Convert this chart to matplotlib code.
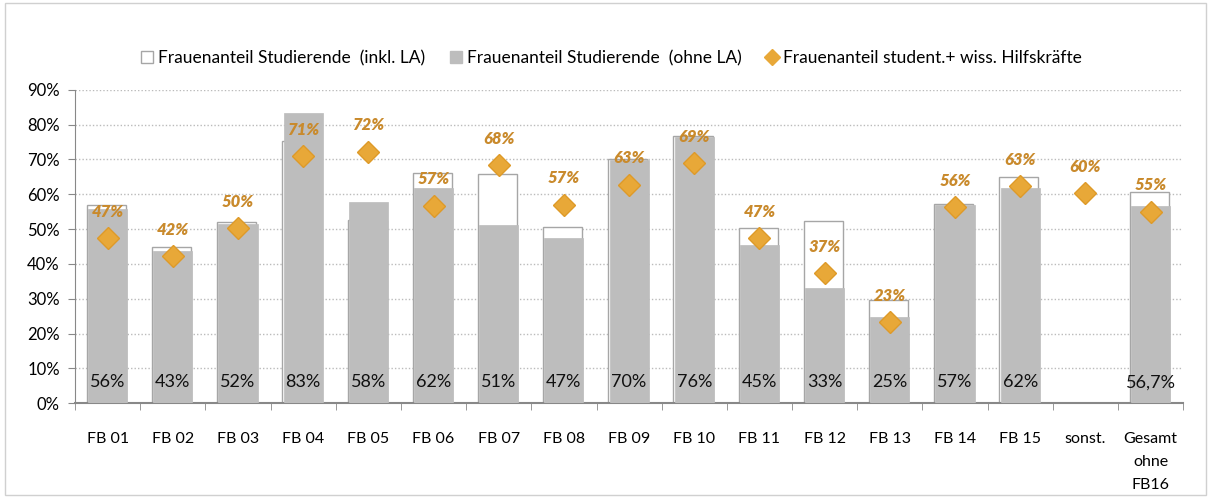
import matplotlib.pyplot as plt
from matplotlib.lines import Line2D
from matplotlib.patches import Patch, Rectangle
import numpy as np

plt.rcParams['font.family'] = ['Lato', 'DejaVu Sans']

categories = ["FB 01", "FB 02", "FB 03", "FB 04", "FB 05", "FB 06", "FB 07", "FB 08",
              "FB 09", "FB 10", "FB 11", "FB 12", "FB 13", "FB 14", "FB 15", "sonst.",
              "Gesamt\nohne\nFB16"]
inkl_la = [57.0, 44.8, 52.0, 75.3, 52.5, 66.0, 65.8, 50.6, 70.0, 76.8, 50.3, 52.3, 29.5,
           57.2, 65.0, np.nan, 60.7]
ohne_la = [55.8, 43.6, 51.6, 83.4, 57.8, 61.7, 51.3, 47.4, 69.8, 76.4, 45.4, 33.1, 24.8,
           57.0, 61.7, np.nan, 56.7]
ohne_labels = ["56%", "43%", "52%", "83%", "58%", "62%", "51%", "47%", "70%", "76%",
               "45%", "33%", "25%", "57%", "62%", "", "56,7%"]
hilfskraefte = [47.3, 42.3, 50.2, 71.0, 72.2, 56.7, 68.4, 57.0, 62.8, 69.0, 47.4, 37.4,
                23.2, 56.3, 62.3, 60.3, 55.0]
hk_labels = ["47%", "42%", "50%", "71%", "72%", "57%", "68%", "57%", "63%", "69%",
             "47%", "37%", "23%", "56%", "63%", "60%", "55%"]

GREY = "#BDBDBD"
EDGE = "#A6A6A6"
ORANGE = "#E8A838"
LABEL_ORANGE = "#C98A2C"

fig = plt.figure(figsize=(12.11, 4.99), dpi=100)
fig.patches.append(Rectangle((0.004, 0.008), 0.992, 0.986, transform=fig.transFigure,
                             fill=False, edgecolor="#D0D0D0", linewidth=1))
ax = fig.add_axes([0.062, 0.192, 0.915, 0.628])

x = np.arange(len(categories))
inkl = np.array(inkl_la) / 100
ohne = np.array(ohne_la) / 100
hk = np.array(hilfskraefte) / 100

ax.bar(x - 0.02, inkl, width=0.6, color="white", edgecolor=EDGE, linewidth=1, zorder=2)
ax.bar(x, ohne, width=0.6, color=GREY, edgecolor=GREY, linewidth=0.5, zorder=3)
ax.plot(x, hk, linestyle="none", marker="D", markersize=11, color=ORANGE,
        markeredgecolor="#DE9A28", markeredgewidth=1, zorder=4)

for xi, lab in zip(x, ohne_labels):
    ax.text(xi, 0.06, lab, ha="center", va="center", fontsize=13, color="#111111", zorder=5)
for xi, v, lab in zip(x, hk, hk_labels):
    ax.annotate(lab, (xi, v), xytext=(0, 19), textcoords="offset points",
                ha="center", va="center", fontsize=12, fontweight="heavy", style="italic",
                color=LABEL_ORANGE, zorder=5)

ax.set_xlim(-0.5, len(categories) - 0.5)
ax.set_ylim(0, 0.9)
yt = np.arange(0, 0.91, 0.1)
ax.set_yticks(yt)
ax.set_yticklabels([f"{int(round(t * 100))}%" for t in yt], fontsize=12)
ax.set_xticks(x)
ax.set_xticklabels(categories, fontsize=11.5, linespacing=1.8, va="top")
ax.set_xticks(np.arange(-0.5, len(categories)), minor=True)
ax.tick_params(axis="x", which="major", length=0, pad=21)
ax.tick_params(axis="x", which="minor", length=5, color="#888888", direction="out")
ax.tick_params(axis="y", length=5, color="#888888", direction="out", pad=6)
ax.yaxis.grid(True, linestyle=(0, (1, 1.5)), color="#BBBBBB", linewidth=1)
ax.set_axisbelow(True)
for s in ["top", "right"]:
    ax.spines[s].set_visible(False)
ax.spines["left"].set_color("#888888")
ax.spines["bottom"].set_color("#888888")
ax.spines["bottom"].set_linewidth(1.5)

handles = [
    Patch(facecolor="white", edgecolor=EDGE, label="Frauenanteil Studierende  (inkl. LA)"),
    Patch(facecolor=GREY, edgecolor=GREY, label="Frauenanteil Studierende  (ohne LA)"),
    Line2D([], [], linestyle="none", marker="D", markersize=8, color=ORANGE,
           label="Frauenanteil student.+ wiss. Hilfskräfte"),
]
fig.legend(handles=handles, loc="center", bbox_to_anchor=(0.505, 0.884), ncol=3,
           frameon=False, fontsize=12.5, handlelength=0.7, handleheight=0.7,
           handletextpad=0.3, columnspacing=1.4)

fig.savefig("out.png", dpi=100)
